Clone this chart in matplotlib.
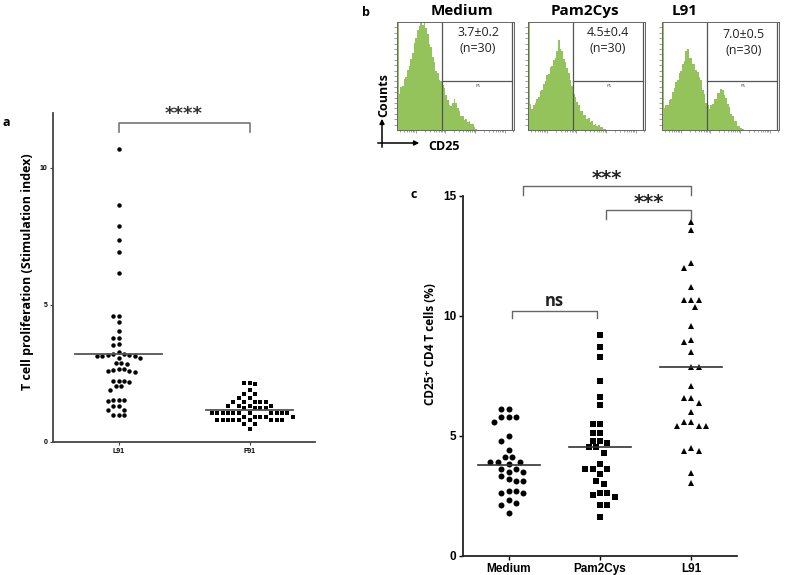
import numpy as np
import matplotlib
matplotlib.use('Agg')
import matplotlib.pyplot as plt

W, H = 787, 575

# ---- panel a: stimulation index per donor
a_labels = ['L91', 'F91']
a_l91 = [10.68, 8.65, 7.88, 7.37, 6.92, 6.17,
         4.61, 4.61, 4.39, 4.05, 3.78, 3.78, 3.58, 3.55, 3.30,
         3.20, 3.17, 3.15, 3.15, 3.15, 3.17, 3.20, 3.05, 3.05,
         2.87, 2.85, 2.87, 2.65, 2.60, 2.57, 2.60, 2.63, 2.65,
         2.23, 2.23, 2.20, 2.23, 2.04, 2.04, 1.90,
         1.55, 1.53, 1.50, 1.53, 1.31, 1.30, 1.17, 1.17, 0.99, 0.97, 1.00]
a_f91 = [2.14, 2.14, 2.10, 1.90, 1.74, 1.74, 1.62, 1.62,
         1.47, 1.47, 1.47, 1.47, 1.47, 1.31, 1.31, 1.31, 1.31,
         1.23, 1.23, 1.23, 1.23,
         1.07, 1.07, 1.07, 1.07, 1.07, 1.07, 1.07, 1.07, 1.07, 1.07, 1.07,
         0.92, 0.92, 0.92, 0.92, 0.92,
         0.80, 0.80, 0.80, 0.80, 0.80, 0.80, 0.80, 0.80, 0.80,
         0.65, 0.65, 0.47]
a_medians = [3.21, 1.17]

# ---- panel b: CD25 histograms (fraction of panel height, 50 bins on log CD25)
b_titles = ['Medium', 'Pam2Cys', 'L91']
b_stats = ['3.7±0.2', '4.5±0.4', '7.0±0.5']
b_medium = [1.00, 0.33, 0.40, 0.41, 0.47, 0.49, 0.56, 0.59, 0.66, 0.71,
            0.81, 0.85, 0.93, 0.96, 1.00, 0.97, 1.00, 0.94, 0.89, 0.80,
            0.77, 0.68, 0.63, 0.55, 0.53, 0.46, 0.45, 0.42, 0.39, 0.32,
            0.28, 0.23, 0.22, 0.25, 0.29, 0.25, 0.20, 0.18, 0.13, 0.13,
            0.09, 0.10, 0.07, 0.08, 0.06, 0.06, 0.03, 0.01, 0.0, 0.0]
b_pam2cys = [1.00, 0.24, 0.19, 0.23, 0.25, 0.29, 0.31, 0.36, 0.37, 0.43,
             0.45, 0.51, 0.52, 0.58, 0.59, 0.65, 0.67, 0.73, 0.83, 0.75,
             0.73, 0.66, 0.63, 0.57, 0.53, 0.46, 0.41, 0.33, 0.31, 0.26,
             0.23, 0.18, 0.18, 0.14, 0.14, 0.10, 0.11, 0.07, 0.08, 0.05,
             0.06, 0.04, 0.05, 0.03, 0.03, 0.01, 0.01, 0.0, 0.0, 0.0]
b_l91 = [1.00, 0.20, 0.23, 0.23, 0.28, 0.29, 0.35, 0.39, 0.44, 0.46,
         0.53, 0.55, 0.61, 0.64, 0.73, 0.75, 0.67, 0.67, 0.61, 0.61,
         0.56, 0.54, 0.49, 0.46, 0.37, 0.33, 0.25, 0.23, 0.19, 0.23,
         0.24, 0.29, 0.29, 0.34, 0.34, 0.38, 0.37, 0.32, 0.30, 0.24,
         0.21, 0.15, 0.13, 0.08, 0.08, 0.04, 0.04, 0.02, 0.01, 0.0]

# ---- panel c: CD25+ CD4 T cells (%)
c_labels = ['Medium', 'Pam2Cys', 'L91']
c_medium = [6.12, 6.12, 5.80, 5.80, 5.80, 5.60, 5.01, 4.79, 4.40, 4.11, 4.11,
            3.93, 3.93, 3.93, 3.82, 3.63, 3.63, 3.51, 3.51, 3.33, 3.21, 3.13,
            3.13, 2.71, 2.71, 2.61, 2.61, 2.32, 2.20, 2.11, 1.80]
c_pam2cys = [9.21, 8.69, 8.31, 7.31, 6.61, 6.29, 5.50, 5.50, 5.11, 5.11,
             4.80, 4.80, 4.72, 4.53, 4.53, 4.30, 3.83, 3.63, 3.63, 3.63,
             3.42, 3.13, 3.00, 2.61, 2.61, 2.55, 2.47, 2.12, 2.12, 1.61]
c_l91 = [13.90, 13.58, 12.19, 11.99, 11.20, 10.67, 10.67, 10.67, 10.39, 9.60,
         9.00, 8.90, 8.51, 7.89, 7.89, 7.08, 6.60, 6.60, 6.39, 5.99,
         5.57, 5.57, 5.42, 5.42, 5.42, 4.49, 4.39, 4.39, 3.45, 3.03]
c_medians = [3.79, 4.53, 7.89]

CAL = ['Open Sans', 'DejaVu Sans']
ARI = 'Liberation Sans'
STAR = 'DejaVu Sans'
GREEN = '#93c35a'


def fig_text(px, py, s, **kw):
    fig.text(px / W, 1 - py / H, s, **kw)


def swarm(ax, xc, vals, gap):
    # simple beeswarm in pixel space, returns x positions in data units
    vals = np.asarray(vals, float)
    pix = ax.transData.transform(np.column_stack([np.full(len(vals), xc), vals]))
    placed = []
    out = np.zeros(len(vals))
    for n, i in enumerate(np.argsort(-vals)):
        px, py = pix[i]
        dx = 0.0
        for k in range(80):
            cands = [0.0] if k == 0 else [k * gap / 2, -k * gap / 2]
            if n % 2:
                cands = cands[::-1]
            hit = None
            for c in cands:
                if all((px + c - qx) ** 2 + (py - qy) ** 2 >= (gap * 0.97) ** 2
                       for qx, qy in placed):
                    hit = c
                    break
            if hit is not None:
                dx = hit
                break
        placed.append((px + dx, py))
        out[i] = ax.transData.inverted().transform((px + dx, py))[0]
    return out


fig = plt.figure(figsize=(W / 100, H / 100), dpi=100)

# ================= panel a
ax = fig.add_axes([53 / W, 1 - 442 / H, 262 / W, 329 / H])
ax.set_xlim(-0.5, 1.5)
ax.set_ylim(0, 12)
for s in ['top', 'right']:
    ax.spines[s].set_visible(False)
for s in ['left', 'bottom']:
    ax.spines[s].set_color('#444444')
    ax.spines[s].set_linewidth(1.3)
ax.set_yticks([0, 5, 10])
ax.set_xticks([0, 1])
ax.set_xticklabels(a_labels)
ax.tick_params(length=2, width=0.8, color='#444444', labelsize=5, pad=2)
for t in ax.get_xticklabels() + ax.get_yticklabels():
    t.set_fontweight('bold')
    t.set_fontfamily(ARI)
for xc, vals, mk in zip([0, 1], [a_l91, a_f91], ['o', 's']):
    xs = swarm(ax, xc, vals, 5.4)
    ax.plot(xs, vals, mk, color='black', ms=3.2, mew=0, clip_on=False)
for xc, m in zip([0, 1], a_medians):
    ax.plot([xc - 0.33, xc + 0.33], [m, m], color='#555555', lw=1.3)
ax.plot([0, 0, 1, 1], [11.3, 11.65, 11.65, 11.3], color='#777777', lw=1.2,
        clip_on=False)
ax.text(0.5, 11.62, '****', ha='center', va='bottom', fontsize=13,
        fontweight='bold', color='#333333', family=STAR)
fig_text(27, 272, 'T cell proliferation (Stimulation index)', rotation=90,
         ha='center', va='center', fontsize=9, fontweight='bold', family=CAL)
fig_text(6, 122, 'a', ha='center', va='center', fontsize=9,
         fontweight='bold', family=CAL)

# ================= panel b
hist_left = [397, 528, 662]
title_x = [462, 585, 685]
stat_y = [(32, 48), (33, 49), (35, 51)]
stat_x = [478, 608, 744]
x0, x1 = 0.368, 4.32
gate, gate_r = 1.89, 4.24
minor = [np.log10(k) + d for d in range(0, 5) for k in range(2, 10)]
minor = [m for m in minor if x0 < m < x1]
for left, vals, title, stat, tx, sx, sy in zip(
        hist_left, [b_medium, b_pam2cys, b_l91], b_titles, b_stats,
        title_x, stat_x, stat_y):
    hx = fig.add_axes([left / W, 1 - 130 / H, 117 / W, 108 / H])
    edges = x0 + 0.0563 * np.arange(len(vals) + 1)
    hx.stairs(vals, edges, fill=True, color=GREEN, lw=0)
    hx.set_xlim(x0, x1)
    hx.set_ylim(0, 1)
    hx.plot([gate, gate], [0, 1], color='#555555', lw=0.9)
    hx.plot([gate, gate_r], [0.45, 0.45], color='#555555', lw=0.9)
    hx.plot([gate_r, gate_r], [0, 1], color='#555555', lw=0.9)
    for s in hx.spines.values():
        s.set_color('#666666')
        s.set_linewidth(0.7)
    hx.set_xticks([1, 2, 3, 4])
    hx.set_xticks(minor, minor=True)
    hx.set_yticks(np.linspace(0, 1, 21)[1:-1])
    hx.tick_params(which='both', direction='out', length=1.5, width=0.5,
                   color='#777777', labelbottom=False, labelleft=False)
    hx.tick_params(which='major', length=2.5)
    hx.text(0.69, 0.41, 'P5', transform=hx.transAxes, ha='center',
            va='center', fontsize=3, color='#555555')
    fig_text(sx, sy[0], stat, ha='center', va='center',
             fontsize=9, family=CAL, color='#222222')
    fig_text(sx, sy[1], '(n=30)', ha='center', va='center',
             fontsize=9, family=CAL, color='#222222')
    fig_text(tx, 11, title, ha='center', va='center', fontsize=11,
             fontweight='bold', family=CAL)
fig_text(366, 12, 'b', ha='center', va='center', fontsize=9,
         fontweight='bold', family=CAL)
fig.patches.append(matplotlib.patches.FancyArrowPatch(
    (382 / W, 1 - 150 / H), (382 / W, 1 - 116 / H), transform=fig.transFigure,
    arrowstyle='-|>', mutation_scale=7, lw=1.1, color='black'))
fig.patches.append(matplotlib.patches.FancyArrowPatch(
    (375 / W, 1 - 143 / H), (422 / W, 1 - 143 / H), transform=fig.transFigure,
    arrowstyle='-|>', mutation_scale=7, lw=1.1, color='black'))
fig_text(384, 95, 'Counts', rotation=90, ha='center', va='center',
         fontsize=9, fontweight='bold', family=CAL)
fig_text(444, 146, 'CD25', ha='center', va='center', fontsize=9,
         fontweight='bold', family=CAL)

# ================= panel c
cx = fig.add_axes([463 / W, 1 - 556 / H, 274 / W, 360 / H])
cx.set_xlim(-0.5, 2.5)
cx.set_ylim(0, 15)
for s in ['top', 'right']:
    cx.spines[s].set_visible(False)
for s in ['left', 'bottom']:
    cx.spines[s].set_linewidth(1.3)
    cx.spines[s].set_color('#222222')
cx.set_yticks([0, 5, 10, 15])
cx.set_xticks([0, 1, 2])
cx.set_xticklabels(c_labels)
cx.tick_params(length=3, width=1, labelsize=8.5, pad=2)
for t in cx.get_xticklabels() + cx.get_yticklabels():
    t.set_fontweight('bold')
    t.set_fontfamily(ARI)
for xc, vals, mk, ms in zip([0, 1, 2], [c_medium, c_pam2cys, c_l91],
                            ['o', 's', '^'], [4.3, 4.2, 4.6]):
    xs = swarm(cx, xc, vals, 7.3)
    cx.plot(xs, vals, mk, color='black', ms=ms, mew=0, clip_on=False)
for xc, m in zip([0, 1, 2], c_medians):
    cx.plot([xc - 0.34, xc + 0.34], [m, m], color='#333333', lw=1.2)
br = dict(color='#666666', lw=1.0, clip_on=False)
cx.plot([0.155, 0.155, 2.0, 2.0], [15.05, 15.4, 15.4, 15.05], **br)
cx.plot([1.07, 1.07, 2.0, 2.0], [14.05, 14.4, 14.4, 14.05], **br)
cx.plot([0.04, 0.04, 0.97, 0.97], [9.9, 10.2, 10.2, 9.9], **br)
cx.text(1.08, 15.35, '***', ha='center', va='bottom', fontsize=14,
        fontweight='bold', family=STAR, color='#222222')
cx.text(1.54, 14.35, '***', ha='center', va='bottom', fontsize=14,
        fontweight='bold', family=STAR, color='#222222')
cx.text(0.5, 10.25, 'ns', ha='center', va='bottom', fontsize=12,
        fontweight='bold', family=CAL, color='#222222')
fig_text(431, 344, 'CD25⁺ CD4 T cells (%)', rotation=90, ha='center',
         va='center', fontsize=8.5, fontweight='bold', family=CAL)
fig_text(414, 195, 'c', ha='center', va='center', fontsize=9,
         fontweight='bold', family=CAL)

fig.savefig('out.png', dpi=100)
